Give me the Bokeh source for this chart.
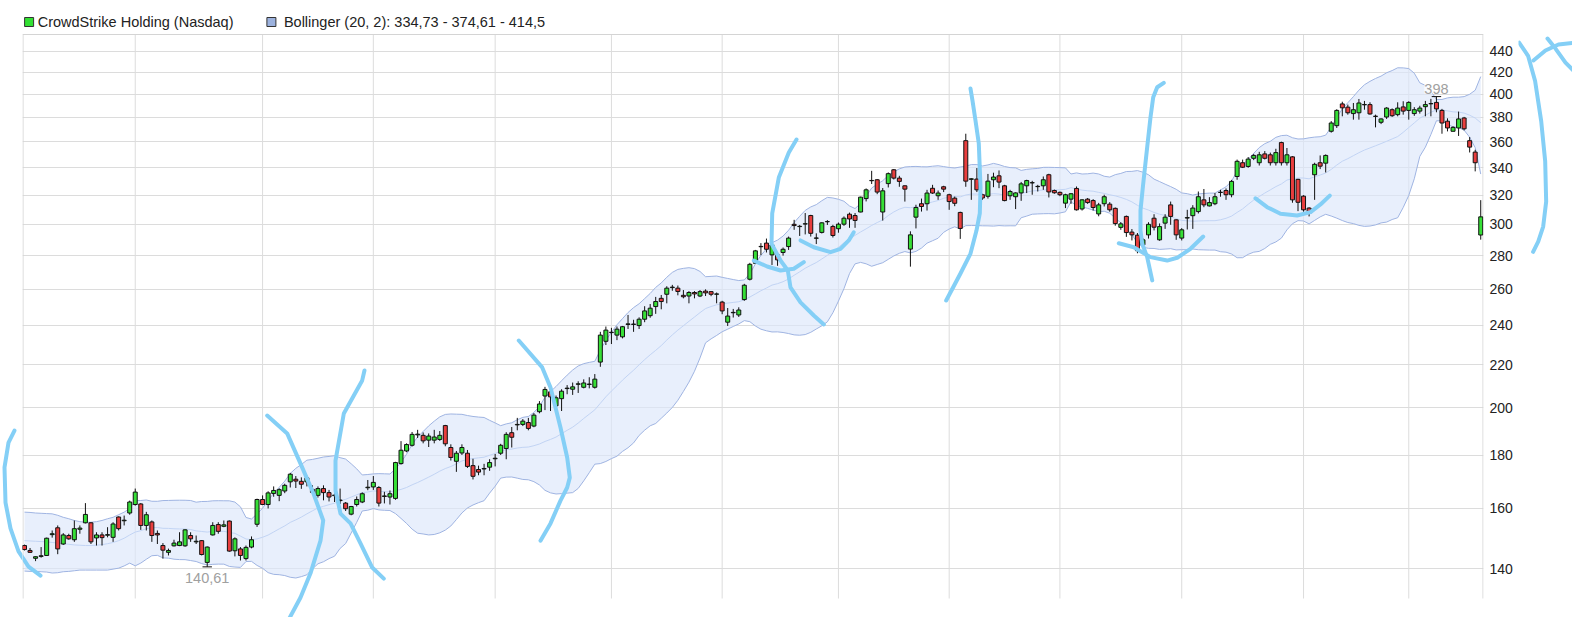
import numpy as np
import pandas as pd
from bokeh.plotting import figure
from bokeh.layouts import row
from bokeh.models import (Range1d, FixedTicker, PrintfTickFormatter, Label,
                          PolyAnnotation, ColumnDataSource)
from bokeh.embed import file_html
from bokeh.resources import INLINE

# ---------------- data ----------------
opens = [
147.4,145.8,143.3,143.9,144.2,151.0,153.3,147.9,150.7,149.3,
152.8,155.0,155.0,149.9,150.9,150.8,150.1,157.0,155.7,158.4,
161.4,161.6,154.1,155.3,151.4,147.4,145.2,147.3,147.4,147.3,
150.7,148.6,149.0,142.0,150.9,154.4,153.8,155.6,145.7,146.3,
143.2,146.9,154.5,163.2,161.4,165.4,164.7,166.3,169.7,170.7,
169.9,169.7,166.9,164.7,167.2,165.7,164.6,162.8,161.9,158.0,
161.4,162.3,167.5,167.8,167.6,164.3,164.1,163.6,176.7,181.7,
184.0,188.3,188.1,186.1,186.1,186.4,192.2,183.1,177.6,180.9,
180.8,175.9,174.4,174.6,175.3,178.6,180.8,182.7,189.2,192.5,
192.7,193.5,192.0,198.2,205.2,207.1,200.8,204.0,208.6,208.3,
210.6,209.2,210.5,209.2,221.2,231.6,236.1,234.8,233.9,240.4,
240.4,239.8,243.2,245.1,250.1,254.7,257.0,260.8,260.5,256.4,
256.0,258.0,256.0,258.8,258.5,257.0,252.6,241.6,246.7,245.5,
254.0,265.7,275.2,285.5,287.8,280.4,280.4,281.9,285.6,300.0,
298.5,300.2,305.9,290.9,294.7,301.7,298.6,297.1,300.1,306.8,
305.9,308.3,317.6,330.4,331.1,308.3,328.3,338.5,332.3,326.7,
284.0,304.8,314.0,314.0,324.9,319.6,326.0,320.3,317.9,308.0,
361.0,331.4,331.6,320.3,319.2,331.1,334.0,326.7,319.6,318.9,
321.6,326.7,328.8,326.1,326.7,334.8,323.3,322.0,314.4,317.2,
324.8,310.4,317.2,316.2,307.0,314.0,313.7,310.8,298.0,305.3,
294.9,292.9,286.7,293.1,304.1,289.9,300.8,313.2,303.0,291.0,
304.2,305.8,308.6,316.7,312.5,314.0,321.9,323.3,320.3,333.5,
343.8,341.0,347.2,343.8,350.6,349.9,343.8,359.5,343.8,348.3,
331.4,319.3,311.0,334.8,343.8,343.5,368.6,373.2,391.6,388.8,
383.3,384.0,390.8,391.0,381.1,376.0,380.4,386.6,382.4,389.0,
386.0,383.3,385.4,389.2,391.7,392.9,386.0,376.9,368.6,371.3,
379.6,361.0,352.0,293.0]

highs = [
147.7,146.6,143.9,146.9,150.0,152.4,154.1,151.5,151.3,155.8,
154.1,161.9,155.2,151.8,151.8,153.5,155.2,157.2,157.5,162.8,
167.2,161.9,158.8,155.8,152.4,148.2,146.4,149.3,151.8,152.8,
151.8,150.7,149.2,147.1,155.2,155.2,155.8,155.8,150.1,146.9,
147.4,150.4,163.5,164.7,166.2,168.0,167.3,169.0,173.1,171.9,
171.4,172.0,168.4,168.0,168.4,166.7,168.4,167.2,162.3,160.9,
164.3,165.8,170.4,171.9,168.1,166.0,166.5,177.4,185.7,184.8,
189.5,190.4,189.3,188.9,190.4,189.9,192.5,184.4,181.7,184.4,
182.1,178.6,175.9,176.6,178.4,180.5,184.6,189.4,191.6,195.5,
195.0,195.5,197.6,202.9,209.4,209.4,205.4,208.3,210.2,211.4,
212.0,212.9,213.9,215.4,236.5,239.3,238.6,239.3,239.6,245.5,
242.9,244.2,250.3,251.5,255.5,256.6,261.6,262.4,262.0,259.4,
258.8,258.8,259.4,259.8,258.8,258.0,253.3,249.3,248.8,249.7,
263.0,275.5,283.5,287.8,290.7,287.2,281.3,285.0,292.0,303.0,
299.6,307.6,306.4,294.1,301.4,302.8,299.7,301.2,305.3,307.9,
307.6,318.9,324.8,337.7,331.6,325.1,336.5,339.0,334.0,326.9,
295.4,313.3,317.6,323.8,327.4,323.3,326.7,321.0,319.0,308.5,
366.6,332.3,339.8,321.0,335.4,336.3,338.0,327.4,323.8,322.0,
329.5,331.1,330.3,327.4,333.5,335.5,324.0,322.6,321.0,321.5,
326.2,317.2,318.0,317.2,314.6,320.3,315.1,311.4,301.5,305.9,
296.9,294.3,290.9,301.4,306.8,300.6,306.8,315.5,303.4,297.5,
309.8,313.0,322.6,324.4,318.6,321.5,323.8,324.8,331.0,346.2,
346.2,348.2,350.6,352.2,352.8,351.6,354.6,360.2,355.2,348.9,
331.8,320.0,311.6,343.8,349.4,350.2,377.0,387.0,393.5,391.0,
392.4,395.9,394.2,393.0,382.4,379.3,388.8,387.7,393.0,393.9,
393.9,388.8,390.0,394.2,396.0,398.0,387.3,379.3,372.7,385.0,
380.5,363.9,353.8,316.5]

lows = [
145.8,145.0,142.4,143.5,144.1,150.0,144.6,147.6,149.3,148.6,
151.3,154.8,147.9,147.4,147.4,150.1,148.6,152.4,154.1,157.8,
161.0,152.6,152.4,148.6,147.9,143.2,144.2,147.1,147.2,147.0,
148.6,147.9,144.2,140.61,150.7,151.3,153.5,145.4,143.9,142.6,
142.6,146.5,153.6,161.2,160.0,164.2,162.6,165.5,167.6,167.4,
167.1,168.0,165.2,163.9,162.9,162.5,162.3,161.6,159.1,157.6,
160.7,161.9,166.6,166.7,160.7,161.8,161.4,163.1,176.3,181.2,
183.5,187.0,184.8,183.3,184.8,185.8,183.6,177.9,173.5,180.1,
175.0,170.6,172.2,172.2,173.9,175.6,180.1,178.4,183.1,190.2,
192.0,190.2,191.5,197.5,198.9,198.5,199.9,198.5,206.0,205.7,
206.6,208.7,208.7,208.6,218.9,229.7,230.2,232.2,233.1,238.0,
236.5,238.0,241.6,244.0,246.1,248.6,251.9,259.0,256.4,254.7,
251.9,254.7,255.4,256.0,255.9,251.9,245.9,239.6,244.1,244.4,
253.3,265.0,274.8,280.2,281.9,274.2,273.7,279.9,283.5,296.4,
292.4,293.4,292.0,287.2,294.0,299.6,291.4,294.5,299.0,297.7,
297.7,308.1,315.6,328.0,320.7,302.5,325.5,331.3,326.0,315.5,
273.2,297.3,308.6,309.3,320.9,316.7,322.2,309.8,312.3,290.5,
326.0,316.7,322.2,316.7,317.6,325.7,325.0,315.7,316.7,310.3,
316.0,321.5,320.3,322.6,323.8,318.4,321.0,319.3,311.0,313.9,
309.3,309.3,313.9,309.3,305.4,312.1,308.5,299.1,296.4,291.8,
289.5,281.4,284.3,290.7,296.0,289.3,297.0,299.7,289.9,289.5,
296.6,297.0,307.3,311.6,312.1,313.0,318.9,316.7,318.5,331.1,
339.8,340.0,345.8,341.7,346.3,341.7,341.7,341.7,341.7,314.7,
308.9,308.5,305.3,316.7,339.0,336.5,367.5,371.3,381.0,382.4,
378.2,378.2,386.6,382.4,371.8,374.5,378.8,380.5,381.0,382.4,
378.2,381.4,383.3,381.0,381.0,384.4,366.6,368.5,368.5,364.8,
369.3,351.7,337.3,290.0]

closes = [
146.1,145.2,143.8,144.1,149.8,151.3,146.3,150.9,149.6,153.0,
153.2,157.9,148.6,150.9,150.0,151.0,154.6,153.0,155.9,162.3,
165.9,154.1,157.8,150.7,150.9,145.9,145.8,148.2,148.6,152.6,
149.6,148.8,144.5,146.9,154.1,152.1,154.3,145.6,149.6,144.2,
146.8,149.3,163.2,161.4,165.6,166.5,166.8,168.4,172.6,170.0,
168.8,171.2,165.8,167.2,165.7,164.1,164.8,163.0,159.9,160.7,
163.2,165.3,167.7,169.5,161.9,164.5,165.3,177.1,182.0,184.3,
188.5,188.6,185.8,187.8,187.4,188.1,184.6,179.1,180.8,183.1,
175.6,171.8,173.4,174.8,177.1,178.8,184.0,188.5,187.3,192.7,
194.1,191.0,196.7,201.6,208.2,204.8,204.4,207.4,208.8,209.4,
210.8,211.2,210.7,213.0,234.8,237.4,236.3,237.9,239.2,240.7,
240.6,243.2,247.7,249.2,252.9,252.9,260.5,261.1,258.6,255.6,
258.0,257.2,258.5,257.8,257.0,257.2,247.7,244.9,246.9,248.2,
262.2,274.6,282.9,285.7,283.9,286.7,277.3,283.9,291.0,299.2,
298.7,300.4,294.1,291.1,301.0,301.9,292.7,300.1,304.1,303.6,
302.6,318.6,323.8,330.6,322.2,323.1,335.6,332.3,329.9,324.3,
293.1,311.4,312.1,321.5,321.5,321.5,324.3,315.5,314.3,297.3,
330.1,331.8,323.8,318.0,330.1,333.1,329.4,316.2,322.6,321.6,
328.1,330.5,329.0,326.3,331.1,322.3,321.7,320.3,320.3,321.0,
309.8,316.7,314.8,311.4,313.2,318.9,309.8,300.5,300.3,294.6,
293.1,283.0,289.9,300.0,298.1,298.5,304.8,305.3,293.1,296.4,
304.5,311.0,318.9,313.2,314.8,318.9,322.1,320.3,329.9,344.9,
340.4,346.6,349.4,349.9,347.2,343.8,351.6,343.8,349.9,316.7,
315.0,309.8,307.5,342.6,341.2,349.4,375.4,386.0,388.2,384.0,
386.6,392.4,391.1,383.0,380.9,378.8,388.0,381.5,388.0,385.4,
392.9,386.6,388.0,391.0,391.9,387.3,375.4,371.3,371.8,378.8,
370.6,355.9,343.8,305.0]

# Bollinger band values before a full 20-day window exists
bb_head_mid = [149.0,148.9,148.8,148.7,148.6,148.4,148.2,148.0,147.8,147.6,
               147.5,147.4,147.4,147.5,147.7,148.0,148.4,149.0,149.8]
bb_head_upper = [158.7,158.6,158.4,158.3,158.2,158.1,157.6,156.9,156.4,155.8,
                 155.4,155.2,155.2,155.4,155.8,156.4,156.9,157.8,158.7]

month_starts = [20, 43, 63, 85, 106, 126, 147, 167, 187, 209, 231, 250]
y_ticks = [140, 160, 180, 200, 220, 240, 260, 280, 300, 320, 340, 360, 380, 400, 420, 440]

series_name = "CrowdStrike Holding (Nasdaq)"
bb_params = "Bollinger (20, 2)"
bb_last = ["334,73", "374,61", "414,5"]

# hand-drawn marker strokes (in candle index / price coordinates)
stroke_a_x = [-1.81, -2.89, -3.61, -3.43, -2.53, -1.08, 0.72, 2.89]
stroke_a_y = [190.1, 185.1, 175.2, 162.1, 153.1, 145.5, 140.7, 137.9]
stroke_b_x = [43.83, 47.44, 49.85, 52.19, 53.95, 53.46, 51.65, 49.85, 47.32]
stroke_b_y = [196.5, 188.9, 176.7, 165.4, 155.8, 149.0, 138.6, 131.4, 124.0]
stroke_c_x = [61.40, 60.99, 57.67, 56.17, 56.17, 57.07, 58.88, 60.68, 62.80, 64.89]
stroke_c_y = [217.1, 212.4, 197.4, 177.9, 166.5, 158.2, 154.8, 148.1, 140.4, 137.0]
stroke_d_x = [89.27, 93.50, 95.0, 96.80, 98.01, 98.48, 98.01, 96.80, 95.0, 93.19]
stroke_d_y = [232.0, 218.6, 209.1, 191.4, 179.1, 171.3, 167.6, 162.8, 154.8, 149.0]
stroke_e_x = [139.43, 138.04, 136.23, 135.04, 134.91, 136.54, 137.86, 138.34, 140.15, 142.55, 144.36]
stroke_e_y = [361.9, 351.7, 332.7, 307.3, 287.5, 276.9, 270.9, 260.9, 252.4, 245.2, 240.4]
stroke_f_x = [131.71, 134.13, 136.54, 138.94, 140.75]
stroke_f_y = [276.9, 273.3, 270.9, 271.9, 275.9]
stroke_g_x = [140.15, 142.55, 145.57, 147.37, 148.87, 149.77]
stroke_g_y = [289.5, 285.2, 282.1, 284.2, 289.5, 294.8]
stroke_h_x = [170.85, 171.21, 171.75, 172.35, 172.66, 172.53, 171.93, 170.85, 169.04, 166.46]
stroke_h_y = [405.1, 394.5, 377.5, 358.7, 325.5, 307.3, 295.9, 281.2, 269.1, 253.5]
stroke_i_x = [205.76, 204.57, 203.85, 203.36, 202.76, 202.04, 201.55, 201.55, 201.86, 202.76, 203.67]
stroke_i_y = [410.3, 406.3, 397.4, 380.2, 355.8, 328.1, 309.3, 295.9, 287.4, 279.0, 265.0]
stroke_j_x = [197.63, 200.34, 203.36, 206.37, 208.18, 210.58, 212.88]
stroke_j_y = [287.7, 285.2, 279.0, 276.9, 278.6, 284.2, 292.0]
stroke_k_x = [222.32, 224.43, 226.84, 229.85, 232.26, 234.06, 235.74]
stroke_k_y = [317.8, 311.6, 307.1, 305.9, 308.2, 313.5, 319.7]
stroke_l_x = [269.93, 271.55, 272.82, 273.92, 274.64, 274.82, 274.28, 273.38, 272.46]
stroke_l_y = [448.4, 435.6, 412.0, 377.0, 344.9, 315.5, 298.5, 288.7, 282.3]
stroke_m_x = [272.52, 274.69, 277.04, 280.11]
stroke_m_y = [431.1, 440.7, 446.6, 448.6]
stroke_n_x = [275.06, 276.5, 278.31, 280.11]
stroke_n_y = [452.5, 442.6, 429.1, 419.7]

# ---------------- derived ----------------
n = len(closes)
idx = np.arange(n)
c = pd.Series(closes)
mid = c.rolling(20).mean().to_numpy()
sd = c.rolling(20).std(ddof=0).to_numpy()
upper = mid + 2 * sd
lower = mid - 2 * sd
h = len(bb_head_mid)
mid[:h] = bb_head_mid
upper[:h] = bb_head_upper
lower[:h] = 2 * np.array(bb_head_mid) - np.array(bb_head_upper)

o = np.array(opens); cl = np.array(closes)
up = cl >= o
GREEN = "#36df36"
RED = "#e83e3e"
colors = np.where(up, GREEN, RED)
src = ColumnDataSource(dict(x=idx, o=o, c=cl, h=highs, l=lows,
                            top=np.maximum(o, cl), bottom=np.minimum(o, cl),
                            color=colors))

STROKE = "#84cff6"
GRID = "#dcdcdc"
SPX = 5.537           # pixels per candle (layout)
X0_PX = 24            # pixel of candle 0 inside the page
LEFT_W, FRAME_W, RIGHT_B, RIGHT_W = 22, 1461, 35, 54
TOP_B, PLOT_H, BOT_B = 34, 564, 19
TOTAL_H = TOP_B + PLOT_H + BOT_B
Y_LO, Y_HI = 131.1, 456.6                     # price range of the chart area
kk = np.log(Y_HI / Y_LO) / PLOT_H
FULL_HI = Y_HI * np.exp(kk * TOP_B)           # price range of the whole canvas height
FULL_LO = Y_LO * np.exp(-kk * BOT_B)


def draw_strokes(fig, pairs):
    for sx, sy in pairs:
        xs = list(sx) + list(sx[-2:0:-1])
        ys = list(sy) + list(sy[-2:0:-1])
        fig.add_layout(PolyAnnotation(xs=xs, ys=ys, fill_alpha=0, line_color=STROKE,
                                      line_alpha=1, line_width=4,
                                      line_join="round", line_cap="round"))


def side_fig(x_start_px, width):
    f = figure(frame_width=width, frame_height=TOTAL_H, output_backend="svg",
               toolbar_location=None, title=None, y_axis_type="log",
               x_axis_location=None, y_axis_location=None,
               x_range=Range1d((x_start_px - X0_PX) / SPX, (x_start_px + width - X0_PX) / SPX),
               y_range=Range1d(FULL_LO, FULL_HI),
               min_border_left=0, min_border_right=0,
               min_border_top=0, min_border_bottom=0)
    f.outline_line_color = None
    f.xgrid.visible = False
    f.ygrid.visible = False
    return f


# ---------------- main figure ----------------
x_lo = (LEFT_W - X0_PX) / SPX
x_hi = (LEFT_W + FRAME_W - X0_PX) / SPX
p = figure(frame_width=FRAME_W, frame_height=TOTAL_H, output_backend="svg",
           toolbar_location=None, title=None,
           y_axis_type="log", y_axis_location="right",
           x_range=Range1d(x_lo, x_hi), y_range=Range1d(FULL_LO, FULL_HI),
           min_border_left=0, min_border_right=RIGHT_B, min_border_top=0,
           min_border_bottom=0)
p.outline_line_color = None
p.xaxis.visible = False
p.xgrid.visible = False
p.ygrid.ticker = FixedTicker(ticks=y_ticks)
p.ygrid.grid_line_color = GRID
p.ygrid.grid_line_width = 1

ax = p.yaxis[0]
ax.ticker = FixedTicker(ticks=y_ticks)
ax.formatter = PrintfTickFormatter(format="%d")
ax.axis_line_color = None
ax.major_tick_line_color = None
ax.minor_tick_line_color = None
ax.major_tick_out = 0
ax.major_tick_in = 0
ax.minor_tick_out = 0
ax.minor_tick_in = 0
ax.major_label_text_font = "Liberation Sans"
ax.major_label_text_font_size = "14px"
ax.major_label_text_color = "#222222"
ax.major_label_standoff = 6

# month separators and chart border (limited to the chart area)
p.segment(x0=month_starts, y0=[Y_LO] * len(month_starts),
          x1=month_starts, y1=[Y_HI] * len(month_starts), line_color=GRID, line_width=1)
edge = 0.5 / SPX
p.segment(x0=[x_lo + edge, x_hi - edge, x_lo], y0=[Y_LO, Y_LO, Y_HI],
          x1=[x_lo + edge, x_hi - edge, x_hi], y1=[Y_HI, Y_HI, Y_HI],
          line_color="#d4d4d4", line_width=1)

# Bollinger band
p.varea(x=idx, y1=lower, y2=upper, fill_color="#dce7fa", fill_alpha=0.65)
p.line(idx, upper, line_color="#9fb4e2", line_width=1)
p.line(idx, lower, line_color="#9fb4e2", line_width=1)
p.line(idx, mid, line_color="#c2d4f4", line_width=1)

# candles
p.segment(x0="x", y0="h", x1="x", y1="l", source=src, line_color="#111111", line_width=1)
p.vbar(x="x", width=0.72, top="top", bottom="bottom", source=src,
       fill_color="color", line_color="#111111", line_width=1)

# high / low markers
hi = int(np.argmax(highs)); lo = int(np.argmin(lows))
p.segment(x0=[hi - 0.85, lo - 0.85], y0=[highs[hi], lows[lo]],
          x1=[hi + 0.85, lo + 0.85], y1=[highs[hi], lows[lo]],
          line_color="#111111", line_width=1)
hi_text = f"{highs[hi]:g}".replace(".", ",")
lo_text = f"{lows[lo]:.2f}".replace(".", ",")
p.add_layout(Label(x=hi, y=highs[hi], text=hi_text, text_align="center",
                   text_baseline="bottom", y_offset=3, text_color="#a0a0a0",
                   text_font="Liberation Sans", text_font_size="14.5px",
                   background_fill_color="white", background_fill_alpha=0.75))
p.add_layout(Label(x=lo, y=lows[lo], text=lo_text, text_align="center",
                   text_baseline="top", y_offset=-6, text_color="#a0a0a0",
                   text_font="Liberation Sans", text_font_size="14.5px"))

# legend at the top
leg_y = Y_HI * np.exp(kk * 12.5)
fy = np.exp(kk * 4.5)
hw = 4.5 / SPX
for cx, col in ((0.83, "#33e033"), (44.59, "#9cb2de")):
    p.add_layout(PolyAnnotation(xs=[cx - hw, cx + hw, cx + hw, cx - hw],
                                ys=[leg_y / fy, leg_y / fy, leg_y * fy, leg_y * fy],
                                fill_color=col, fill_alpha=1, line_color="#333333",
                                line_alpha=1, line_width=1))
p.add_layout(Label(x=2.38, y=leg_y, text=series_name, text_baseline="middle",
                   text_font="Liberation Sans", text_font_size="14.5px",
                   text_color="#222222"))
p.add_layout(Label(x=46.85, y=leg_y,
                   text=f"{bb_params}: {bb_last[0]} - {bb_last[1]} - {bb_last[2]}",
                   text_baseline="middle", text_font="Liberation Sans",
                   text_font_size="14.5px", text_color="#222222"))

draw_strokes(p, [(stroke_a_x, stroke_a_y), (stroke_b_x, stroke_b_y), (stroke_c_x, stroke_c_y),
                 (stroke_d_x, stroke_d_y), (stroke_e_x, stroke_e_y), (stroke_f_x, stroke_f_y),
                 (stroke_g_x, stroke_g_y), (stroke_h_x, stroke_h_y), (stroke_i_x, stroke_i_y),
                 (stroke_j_x, stroke_j_y), (stroke_k_x, stroke_k_y)])

# ---------------- side panels for marks drawn outside the chart area ----------------
pl = side_fig(0, LEFT_W)
draw_strokes(pl, [(stroke_a_x, stroke_a_y)])
pr = side_fig(LEFT_W + FRAME_W + RIGHT_B, RIGHT_W)
draw_strokes(pr, [(stroke_l_x, stroke_l_y), (stroke_m_x, stroke_m_y), (stroke_n_x, stroke_n_y)])

layout = row(pl, p, pr, spacing=0)
open("out.html", "w").write(file_html(layout, INLINE))
